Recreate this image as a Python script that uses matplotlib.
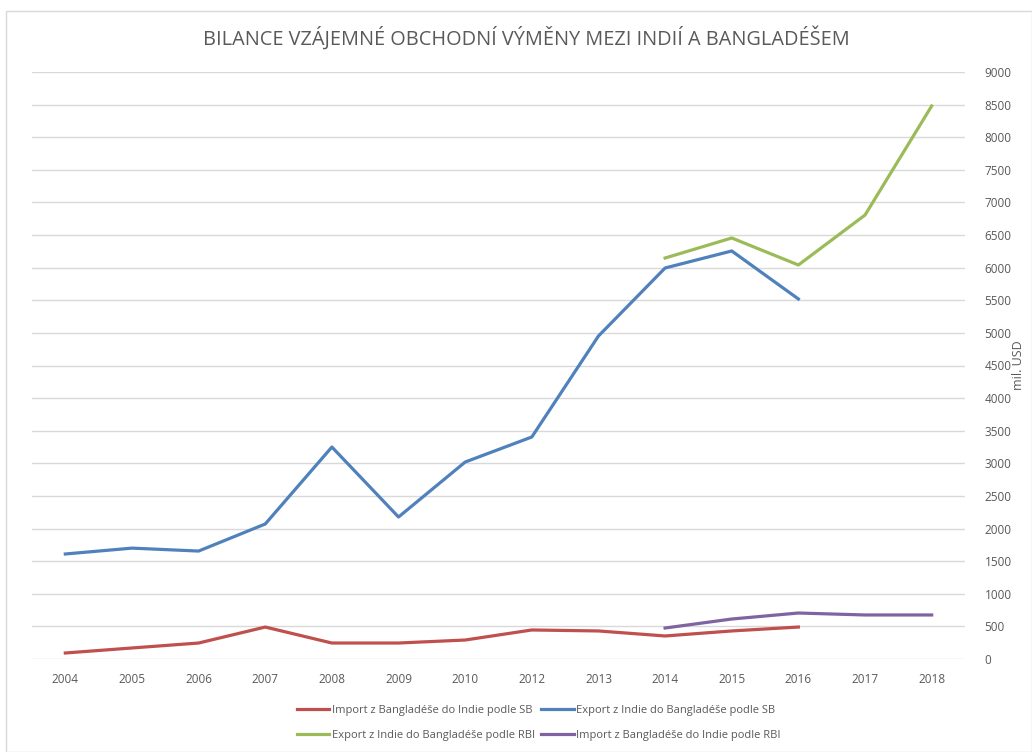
"""Bilance vzájemné obchodní výměny mezi Indií a Bangladéšem."""

import matplotlib

matplotlib.use("Agg")
import matplotlib.pyplot as plt
from matplotlib.patches import Rectangle

plt.rcParams["font.family"] = ["Open Sans", "DejaVu Sans"]

years = ["2004", "2005", "2006", "2007", "2008", "2009", "2010",
         "2012", "2013", "2014", "2015", "2016", "2017", "2018"]

# mil. USD, None = no data
import_sb = [92, 169, 245, 490, 245, 245, 291, 445, 430, 353, 430, 490, None, None]
export_sb = [1610, 1700, 1655, 2070, 3250, 2177, 3020, 3404, 4952, 5995, 6256, 5520, None, None]
export_rbi = [None, None, None, None, None, None, None, None, None, 6148, 6455, 6041, 6807, 8479]
import_rbi = [None, None, None, None, None, None, None, None, None, 475, 613, 705, 675, 675]

series = [
    ("Import z Bangladéše do Indie podle SB", import_sb, "#C0504D"),
    ("Export z Indie do Bangladéše podle SB", export_sb, "#4F81BD"),
    ("Export z Indie do Bangladéše podle RBI", export_rbi, "#9BBB59"),
    ("Import z Bangladéše do Indie podle RBI", import_rbi, "#8064A2"),
]

TXT = "#595959"

fig = plt.figure(figsize=(10.32, 7.52), dpi=100)
fig.patches.append(Rectangle((0.006, 0.0), 0.994, 0.985, transform=fig.transFigure,
                             fill=False, edgecolor="#D9D9D9", linewidth=1))
ax = fig.add_axes([32 / 1032, 1 - 659 / 752, (965 - 32) / 1032, (659 - 72) / 752])

x = list(range(len(years)))
lines = []
for label, vals, color in series:
    y = [float("nan") if v is None else v for v in vals]
    (ln,) = ax.plot(x, y, color=color, linewidth=2.3, label=label, solid_joinstyle="round")
    lines.append(ln)

ax.set_xlim(-0.5, len(years) - 0.5)
ax.set_ylim(0, 9000)
ax.set_yticks(range(0, 9001, 500))
ax.set_xticks(x)
ax.set_xticklabels(years)
ax.yaxis.tick_right()
ax.yaxis.set_label_position("right")
ax.grid(axis="y", color="#D9D9D9", linewidth=1)
ax.set_axisbelow(True)
for s in ax.spines.values():
    s.set_visible(False)
ax.tick_params(length=0, colors=TXT, labelsize=8.5)
ax.tick_params(axis="y", pad=14)
ax.tick_params(axis="x", pad=10)
ax.set_ylabel("mil. USD", color=TXT, fontsize=9, labelpad=0)

fig.text(0.51, 1 - 38 / 752, "BILANCE VZÁJEMNÉ OBCHODNÍ VÝMĚNY MEZI INDIÍ A BANGLADÉŠEM",
         ha="center", va="center", fontsize=14.3, color=TXT)

# row-wise order in a 2-column legend
order = [0, 2, 1, 3]
fig.legend([lines[i] for i in order], [series[i][0] for i in order],
           loc="center", bbox_to_anchor=(0.522, 1 - 723 / 752), ncol=2, frameon=False,
           fontsize=8, labelcolor=TXT, handlelength=2.9, handletextpad=0.2,
           columnspacing=0.6, labelspacing=1.3)

fig.savefig("out.png", dpi=100)
